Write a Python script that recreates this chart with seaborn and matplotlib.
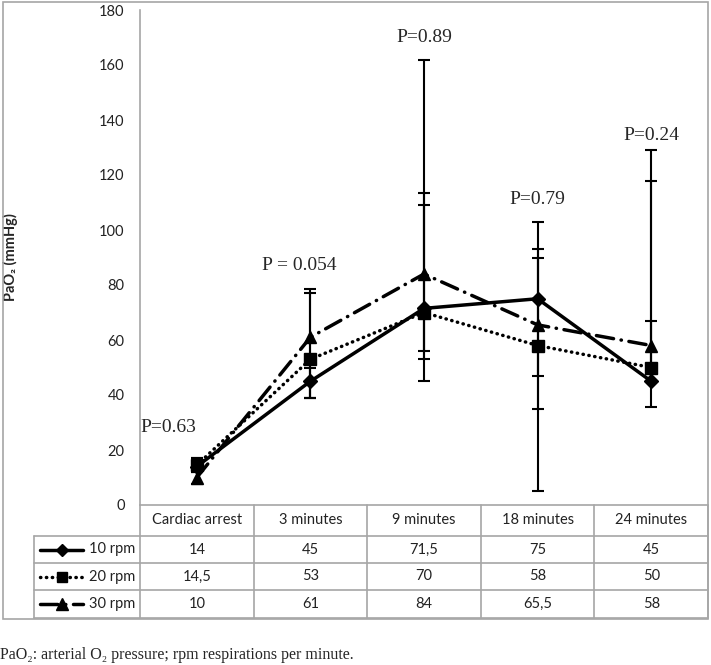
import numpy as np
import pandas as pd
import matplotlib
matplotlib.use('Agg')
import matplotlib.pyplot as plt
from matplotlib.patches import Rectangle
from matplotlib.lines import Line2D
import seaborn as sns

# data
categories = ["Cardiac arrest", "3 minutes", "9 minutes", "18 minutes", "24 minutes"]
series_names = ["10 rpm", "20 rpm", "30 rpm"]
pao2_10 = [14, 45, 71.5, 75, 45]
pao2_20 = [14.5, 53, 70, 58, 50]
pao2_30 = [10, 61, 84, 65.5, 58]
# error bar ends (low / high) per series
low_10 = [12, 39, 56, 47, 35.5]
high_10 = [17, 50, 113.6, 103, 67]
low_20 = [12, 39, 45, 5, 45]
high_20 = [17, 77, 109, 90, 118]
low_30 = [7.5, 39, 53, 35, 50]
high_30 = [12, 78.5, 162, 93, 129]
p_labels = ["P=0.63", "P = 0.054", "P=0.89", "P=0.79", "P=0.24"]
p_label_y = [28, 87, 170, 111, 134.5]
p_label_dx = [-0.25, -0.1, 0, 0, 0]

sns.set_theme(style="white")
plt.rcParams['font.family'] = ['Lato', 'DejaVu Sans']
serif = ['Liberation Serif', 'DejaVu Serif']
gray = '#a6a6a6'

W, H = 711, 665
fig = plt.figure(figsize=(W / 100, H / 100), dpi=100)

def fx(px):
    return px / W

def fy(px):
    return 1 - px / H

ax = fig.add_axes([fx(140), fy(505), fx(568), 495 / H])
x = np.arange(len(categories))

styles = [
    dict(marker='D', markersize=7, linestyle='-'),
    dict(marker='s', markersize=8, linestyle=(0, (0.1, 1.6)), dash_capstyle='round'),
    dict(marker='^', markersize=9, linestyle=(0, (5, 2.2, 0.1, 2.2)), dash_capstyle='round'),
]
values = [pao2_10, pao2_20, pao2_30]
lows = [low_10, low_20, low_30]
highs = [high_10, high_20, high_30]

for vals, lo, hi in zip(values, lows, highs):
    vals = np.array(vals)
    yerr = [vals - np.array(lo), np.array(hi) - vals]
    ax.errorbar(x, vals, yerr=yerr, fmt='none', ecolor='black', elinewidth=1.5,
                capsize=4, capthick=1.5, zorder=2)

for vals, st, name in zip(values, styles, series_names):
    df = pd.DataFrame({"x": x, "y": vals})
    sns.lineplot(data=df, x="x", y="y", ax=ax, color='black', linewidth=2.5,
                 markeredgecolor='black', markeredgewidth=1, zorder=3, **st)

for i, (lab, yy, dx) in enumerate(zip(p_labels, p_label_y, p_label_dx)):
    ax.text(i + dx, yy, lab, ha='center', va='center', fontsize=14, family=serif)

ax.set_xlim(-0.5, len(categories) - 0.5)
ax.set_ylim(0, 180)
ax.set_yticks(range(0, 181, 20))
ax.set_xticks([])
ax.set_xlabel("")
ax.set_ylabel("PaO₂ (mmHg)", fontsize=10.5, fontweight='bold')
ax.yaxis.set_label_coords((18 - 140) / 568, 0.5)
ax.tick_params(axis='y', length=0, pad=11, labelsize=10.5, colors='#222222')
for s in ['top', 'right', 'bottom']:
    ax.spines[s].set_visible(False)
ax.spines['left'].set_color(gray)
ax.spines['left'].set_linewidth(1.2)
ax.patch.set_alpha(0)

# data table under the chart
tax = fig.add_axes([fx(140), fy(618), fx(568), 113 / H])
tax.set_xlim(-0.5, len(categories) - 0.5)
tax.set_ylim(113, 0)
tax.axis('off')
lab_left = (34 - 140) / 113.6 - 0.5
row_edges = [0, 31, 58, 85, 113]
for yy in row_edges:
    x0 = -0.5 if yy == 0 else lab_left
    tax.plot([x0, len(categories) - 0.5], [yy, yy], color=gray, lw=1.2, clip_on=False)
for xx in np.arange(-0.5, len(categories) - 0.4, 1.0):
    tax.plot([xx, xx], [0, 113], color=gray, lw=1.2, clip_on=False)
tax.plot([lab_left, lab_left], [31, 113], color=gray, lw=1.2, clip_on=False)

for i, c in enumerate(categories):
    tax.text(i, 15.5, c, ha='center', va='center', fontsize=10.5, color='#222222')
row_centers = [44.5, 71.5, 99]
for vals, st, name, yc in zip(values, styles, series_names, row_centers):
    for i, v in enumerate(vals):
        tax.text(i, yc, f"{v:g}".replace('.', ','), ha='center', va='center',
                 fontsize=10.5, color='#222222')
    tax.text(-0.545, yc, name, ha='right', va='center', fontsize=10.5, color='#222222')
    x1, x2 = (40 - 140) / 113.6 - 0.5, (83 - 140) / 113.6 - 0.5
    tax.add_line(Line2D([x1, x2], [yc, yc], color='black', linewidth=2.5,
                        linestyle=st['linestyle'], dash_capstyle=st.get('dash_capstyle', 'butt'),
                        clip_on=False))
    tax.add_line(Line2D([(x1 + x2) / 2], [yc], color='black', marker=st['marker'],
                        markersize=st['markersize'] - 1, linestyle='none', clip_on=False))

# outer frame of the chart
fig.patches.append(Rectangle((fx(3), fy(619)), fx(705), 617 / H, transform=fig.transFigure,
                             fill=False, edgecolor=gray, linewidth=1.2))

fig.text(0.0, fy(655), "PaO₂: arterial O₂ pressure; rpm respirations per minute.",
         ha='left', va='center', fontsize=11.5, family=serif)

fig.savefig("out.png", dpi=100)
